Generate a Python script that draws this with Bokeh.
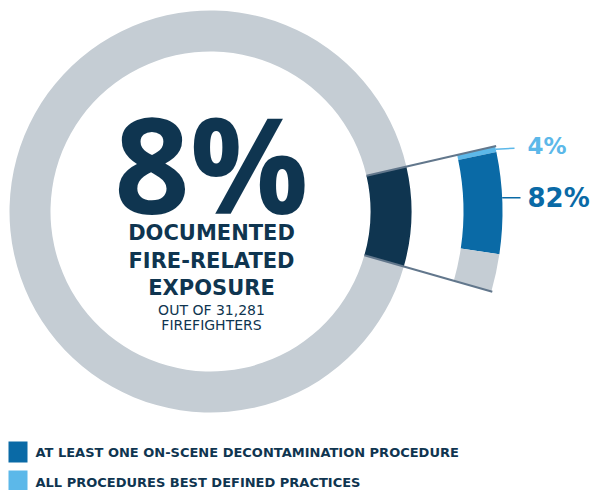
import math
from bokeh.plotting import figure
from bokeh.models import Range1d
from bokeh.embed import file_html
from bokeh.resources import INLINE
from bokeh.core.properties import value

# ---------------- data ----------------
headline_pct = [8]                       # share of the ring highlighted
headline_text = ["8%"]
headline_lines = ["DOCUMENTED", "FIRE-RELATED", "EXPOSURE"]
sub_lines = ["OUT OF 31,281", "FIREFIGHTERS"]
detail_names = ["All procedures best defined practices",
                "At least one on-scene decontamination procedure",
                "Remaining"]
detail_share = [4, 70, 26]               # visual share of the zoomed arc, top to bottom
detail_labels = ["4%", "82%"]
legend_labels = ["AT LEAST ONE ON-SCENE DECONTAMINATION PROCEDURE",
                 "ALL PROCEDURES BEST DEFINED PRACTICES"]

# ---------------- style ----------------
GRAY = "#c5cdd4"
NAVY = "#0f3550"
BLUE = "#0a6aa6"
LIGHT = "#5cb8e9"
LINE = "#62778c"
FONT = value("DejaVu Sans")
BIG_FONT = value("Open Sans")
detail_colors = [LIGHT, BLUE, GRAY]

W, H = 591, 490
def Y(img_y):
    return H - img_y

p = figure(width=W, height=H, output_backend="svg", toolbar_location=None,
           x_range=Range1d(0, W), y_range=Range1d(0, H),
           min_border=0, outline_line_color=None)
p.axis.visible = False
p.grid.visible = False
p.background_fill_color = "white"
p.border_fill_color = "white"

cx, cy = 210, Y(211)
r_in, r_out = 160, 201
center_ang = math.radians(-1.5)
span = headline_pct[0] / 100 * 2 * math.pi
a0, a1 = center_ang - span / 2, center_ang + span / 2

# main ring
p.annular_wedge(x=[cx], y=[cy], inner_radius=r_in, outer_radius=r_out,
                start_angle=[a1], end_angle=[a0 + 2 * math.pi],
                fill_color=GRAY, line_color=None)
p.annular_wedge(x=[cx], y=[cy], inner_radius=r_in, outer_radius=r_out,
                start_angle=[a0], end_angle=[a1],
                fill_color=NAVY, line_color=None)

# zoomed detail arc
d_in, d_out = 253, 292
tops, bots = [], []
cum = 0
for s in detail_share:
    top = a1 - cum / 100 * span
    bot = a1 - (cum + s) / 100 * span
    tops.append(top)
    bots.append(bot)
    cum += s
p.annular_wedge(x=[cx] * 3, y=[cy] * 3, inner_radius=d_in, outer_radius=d_out,
                start_angle=bots, end_angle=tops,
                fill_color=detail_colors, line_color=None)

# radial connector lines
for a in (a0, a1):
    p.segment(x0=[cx + r_in * math.cos(a)], y0=[cy + r_in * math.sin(a)],
              x1=[cx + (d_out + 1) * math.cos(a)], y1=[cy + (d_out + 1) * math.sin(a)],
              line_color=LINE, line_width=2)

# detail labels
lab_angles = [(tops[0] + bots[0]) / 2, tops[1] - 0.45 * (tops[1] - bots[1])]
lab_colors = [LIGHT, BLUE]
lab_sizes = ["23px", "26px"]
lab_dy = [1, 0]
lab_tdy = [3.5, 0]
lab_x1 = [514, 520]
for i, txt in enumerate(detail_labels):
    a = lab_angles[i]
    x0 = cx + d_out * math.cos(a)
    y0 = cy + d_out * math.sin(a)
    p.segment(x0=[x0], y0=[y0], x1=[lab_x1[i]], y1=[y0 + lab_dy[i]],
              line_color=lab_colors[i], line_width=1.5)
    p.text(x=[527], y=[y0 + lab_tdy[i]], text=[txt], text_font=FONT,
           text_font_style="bold", text_font_size=lab_sizes[i],
           text_color=lab_colors[i], text_align="left", text_baseline="middle")

# centre text
tx = 211
p.text(x=[tx], y=[Y(162)], text=headline_text, text_font=BIG_FONT,
       text_font_style="bold", text_font_size="132px", text_color=NAVY,
       text_align="center", text_baseline="middle")
for line, my in zip(headline_lines, [232.5, 260, 287.5]):
    p.text(x=[tx], y=[Y(my)], text=[line], text_font=FONT,
           text_font_style="bold", text_font_size="21px", text_color=NAVY,
           text_align="center", text_baseline="middle")
for line, my in zip(sub_lines, [309.5, 324.5]):
    p.text(x=[tx], y=[Y(my)], text=[line], text_font=FONT,
           text_font_size="14px", text_color=NAVY,
           text_align="center", text_baseline="middle")

# legend
leg_colors = [BLUE, LIGHT]
leg_top = [441, 470]
leg_mid = [452, 482]
for i, lab in enumerate(legend_labels):
    p.quad(left=[8], right=[27], top=[Y(leg_top[i])], bottom=[Y(leg_top[i] + 21)],
           fill_color=leg_colors[i], line_color=None)
    p.text(x=[35], y=[Y(leg_mid[i])], text=[lab], text_font=FONT,
           text_font_style="bold", text_font_size="13px", text_color=NAVY,
           text_align="left", text_baseline="middle")

open("out.html", "w").write(file_html(p, INLINE))
